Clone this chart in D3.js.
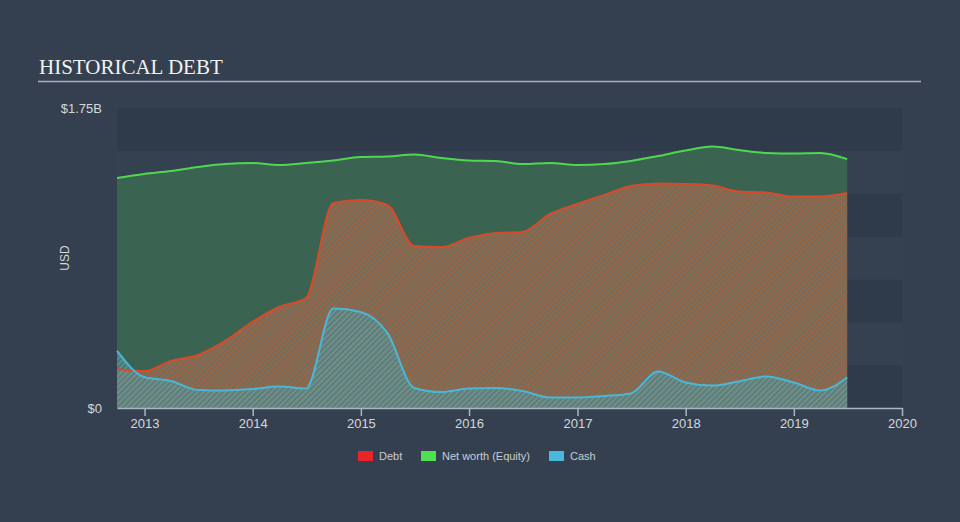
<!DOCTYPE html>
<html>
<head>
<meta charset="utf-8">
<script src="https://cdn.jsdelivr.net/npm/d3@7"></script>
<style>
html,body{margin:0;padding:0;background:#343f4f;}
svg{display:block;}
</style>
</head>
<body>
<svg id="chart" width="960" height="522"></svg>
<script>
// ---- data (USD millions) ----
const dates = ["2012-09-30","2012-12-31","2013-03-31","2013-06-30","2013-09-30","2013-12-31",
  "2014-03-31","2014-06-30","2014-09-30","2014-12-31","2015-03-31","2015-06-30","2015-09-30",
  "2015-12-31","2016-03-31","2016-06-30","2016-09-30","2016-12-31","2017-03-31","2017-06-30",
  "2017-09-30","2017-12-31","2018-03-31","2018-06-30","2018-09-30","2018-12-31","2019-03-31","2019-06-30"];
const debt = [228,216,274,309,391,502,589,642,1196,1213,1184,945,939,992,1021,1027,1132,1190,1242,1295,1310,1307,1298,1263,1257,1234,1234,1254];
const equity = [1342,1365,1382,1406,1423,1429,1418,1429,1444,1464,1467,1479,1458,1444,1441,1423,1429,1418,1423,1441,1470,1502,1525,1505,1488,1485,1488,1452];
const cash = [333,181,158,105,102,111,125,114,580,560,438,117,93,114,117,99,61,61,70,85,213,149,131,155,184,149,102,178];
const yearTicks = ["2013","2014","2015","2016","2017","2018","2019","2020"];
const yTickValues = [0,1750];
const yTickLabels = ["$0","$1.75B"];
const legendItems = ["Debt","Net worth (Equity)","Cash"];
const legendColors = ["#e8262a","#4fe04f","#4ab8dc"];

const parse = d3.timeParse("%Y-%m-%d");
const pts = dates.map((d,i)=>({date:parse(d),debt:debt[i],equity:equity[i],cash:cash[i]}));

const svg = d3.select("#chart");
const W = 960, H = 522;
const pLeft = 117, pRight = 902, pTop = 108, pBottom = 408;

svg.append("rect").attr("width",W).attr("height",H).attr("fill","#343f4f");

const x = d3.scaleTime().domain([parse("2012-09-30"), parse("2020-01-01")]).range([pLeft,pRight]);
const y = d3.scaleLinear().domain([0,1750]).range([pBottom,pTop]);

// title
svg.append("text").attr("x",39).attr("y",74).text("HISTORICAL DEBT")
  .attr("font-family","'Liberation Serif','Times New Roman',serif").attr("font-size",21)
  .attr("fill","#f2f2f2");
svg.append("line").attr("x1",38).attr("x2",921).attr("y1",81.5).attr("y2",81.5)
  .attr("stroke","#a9b0b8").attr("stroke-width",1.5);

// bands
const bandVals = d3.range(0,1750,250);
svg.append("g").selectAll("rect").data(bandVals).join("rect")
  .attr("x",pLeft).attr("width",pRight-pLeft)
  .attr("y",d=>y(d+250)).attr("height",d=>y(d)-y(d+250))
  .attr("fill",(d,i)=> (i%2===0) ? "#2f3b4b" : "#344151");

// patterns
const defs = svg.append("defs");
function hatch(id, base, stripe, baseOp, stripeOp){
  const p = defs.append("pattern").attr("id",id).attr("patternUnits","userSpaceOnUse")
    .attr("width",4).attr("height",4).attr("patternTransform","rotate(45)");
  p.append("rect").attr("width",4).attr("height",4).attr("fill",base).attr("fill-opacity",baseOp);
  p.append("rect").attr("width",2).attr("height",4).attr("fill",stripe).attr("fill-opacity",stripeOp);
}
hatch("debtHatch","#6a7260","#b85a38",1,0.72);
hatch("cashHatch","#5c8480","#4ab8d8",0.55,0.4);

const curve = d3.curveMonotoneX;
const areaOf = key => d3.area().curve(curve).x(d=>x(d.date)).y0(y(0)).y1(d=>y(d[key]));
const lineOf = key => d3.line().curve(curve).x(d=>x(d.date)).y(d=>y(d[key]));

svg.append("path").datum(pts).attr("d",areaOf("equity")).attr("fill","#3a6451");
svg.append("path").datum(pts).attr("d",areaOf("debt")).attr("fill","url(#debtHatch)");
svg.append("path").datum(pts).attr("d",areaOf("cash")).attr("fill","url(#cashHatch)");

svg.append("path").datum(pts).attr("d",lineOf("equity")).attr("fill","none").attr("stroke","#4fd84f").attr("stroke-width",2);
svg.append("path").datum(pts).attr("d",lineOf("debt")).attr("fill","none").attr("stroke","#d84a2a").attr("stroke-width",2);
svg.append("path").datum(pts).attr("d",lineOf("cash")).attr("fill","none").attr("stroke","#4ab6d8").attr("stroke-width",2);

// x axis
const xAxis = d3.axisBottom(x)
  .tickValues(yearTicks.map(t=>parse(t+"-01-01")))
  .tickFormat(d3.timeFormat("%Y")).tickSizeInner(8).tickSizeOuter(0).tickPadding(3);
const gx = svg.append("g").attr("transform",`translate(0,${pBottom})`).call(xAxis);
gx.select(".domain").attr("stroke","#a9b6c4").attr("stroke-width",1.5);
gx.selectAll(".tick line").attr("stroke","#a9b6c4").attr("stroke-width",1.5);
gx.selectAll(".tick text").attr("fill","#d4d8dc").attr("font-size",13)
  .attr("font-family","'Liberation Sans',Arial,sans-serif");

// y labels
const yAxis = d3.axisLeft(y).tickValues(yTickValues).tickFormat((d,i)=>yTickLabels[i]).tickSize(0).tickPadding(15);
const gy = svg.append("g").attr("transform",`translate(${pLeft},0)`).call(yAxis);
gy.select(".domain").remove();
gy.selectAll(".tick text").attr("fill","#d4d8dc").attr("font-size",13)
  .attr("font-family","'Liberation Sans',Arial,sans-serif");

svg.append("text").attr("transform","translate(69,258) rotate(-90)").attr("text-anchor","middle")
  .text("USD").attr("fill","#d4d8dc").attr("font-size",12)
  .attr("font-family","'Liberation Sans',Arial,sans-serif");

// legend
const legX = [358,421,549];
const lg = svg.append("g");
legendItems.forEach((name,i)=>{
  lg.append("rect").attr("x",legX[i]).attr("y",451).attr("width",15).attr("height",10).attr("fill",legendColors[i]);
  lg.append("text").attr("x",legX[i]+21).attr("y",460).text(name)
    .attr("fill","#c8ced4").attr("font-size",11).attr("font-family","'Liberation Sans',Arial,sans-serif");
});
</script>
</body>
</html>
